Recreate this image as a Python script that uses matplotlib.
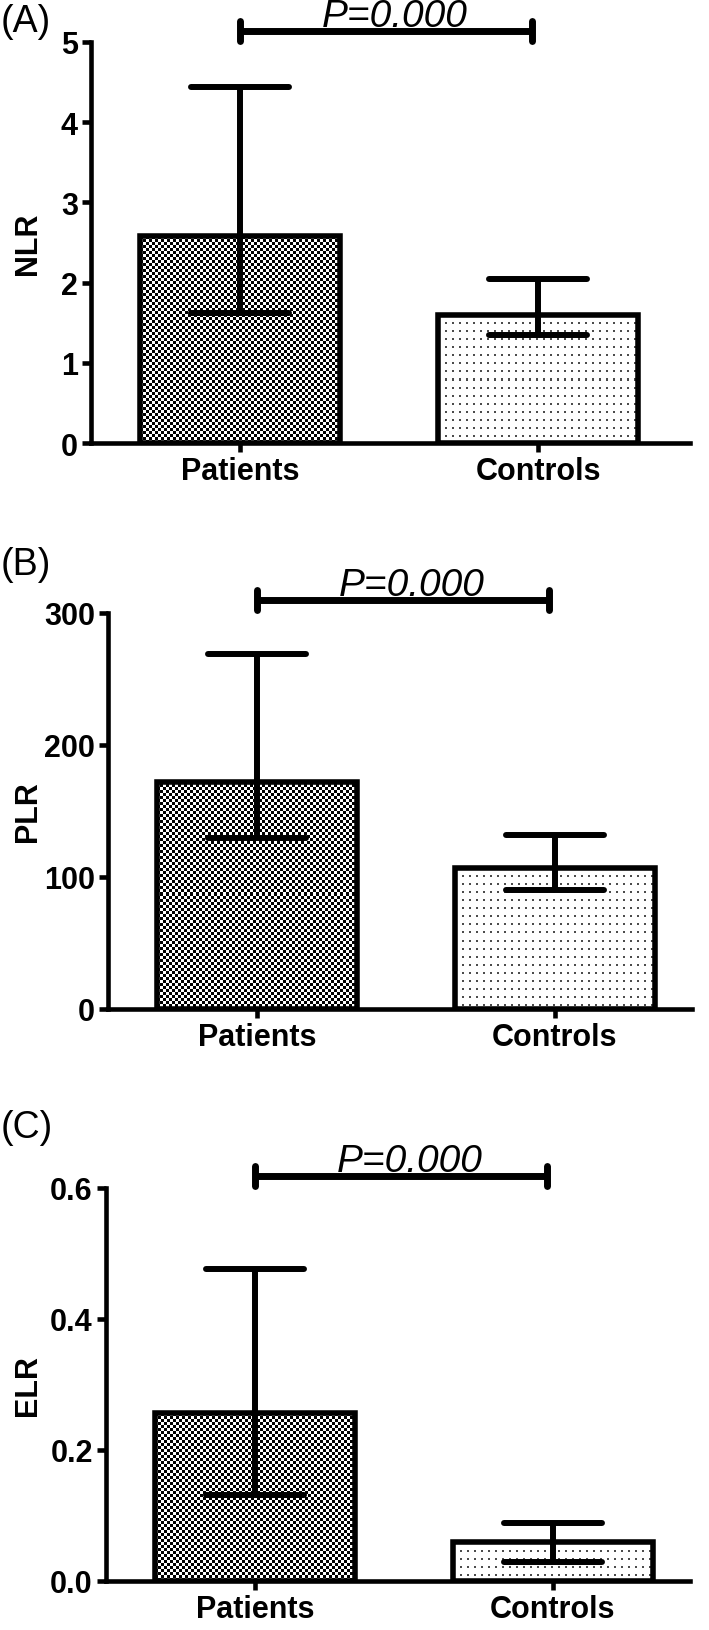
import numpy as np
import matplotlib
matplotlib.use("Agg")
import matplotlib.pyplot as plt

plt.rcParams['font.family'] = ['Liberation Sans', 'DejaVu Sans']

# ---------------- data ----------------
groups = ["Patients", "Controls"]

nlr_mean = [2.58, 1.60]
nlr_low = [1.62, 1.35]
nlr_high = [4.44, 2.05]

plr_mean = [172, 107]
plr_low = [129.5, 90]
plr_high = [269, 132]

elr_mean = [0.256, 0.059]
elr_low = [0.132, 0.029]
elr_high = [0.476, 0.089]

nlr_ticks = [0, 1, 2, 3, 4, 5]
plr_ticks = [0, 100, 200, 300]
elr_ticks = [0.0, 0.2, 0.4, 0.6]
elr_ticklabels = ["0.0", "0.2", "0.4", "0.6"]

sig_levels = [5.14, 310, 0.619]
p_labels = ["P=0.000", "P=0.000", "P=0.000"]
panel_letters = ["(A)", "(B)", "(C)"]
y_names = ["NLR", "PLR", "ELR"]

# ---------------- figure ----------------
W, H = 709, 1631
fig = plt.figure(figsize=(W / 100, H / 100), dpi=100)


def add_axes_px(left, top, right, bottom):
    return fig.add_axes([left / W, 1 - bottom / H, (right - left) / W, (bottom - top) / H])


def checker(h, w):
    yy, xx = np.mgrid[0:h, 0:w]
    return np.where(((yy // 3) + (xx // 3)) % 2 == 0, 0.0, 1.0)


def dots(h, w):
    yy, xx = np.mgrid[0:h, 0:w]
    arr = np.ones((h, w))
    arr[(yy % 8 < 2) & (xx % 7 < 2)] = 0.3
    return arr


def fill_texture(ax, rect, maker):
    bb = rect.get_window_extent()
    w = max(int(round(bb.width)), 1)
    h = max(int(round(bb.height)), 1)
    arr = maker(h, w)
    x0 = rect.get_x()
    x1 = x0 + rect.get_width()
    y1 = rect.get_height()
    im = ax.imshow(arr, cmap="gray", vmin=0, vmax=1, extent=(x0, x1, 0, y1),
                   origin="upper", interpolation="nearest", aspect="auto", zorder=1.5)
    im.set_clip_path(rect)


panels = [
    dict(box=(91, 43, 690, 444), xlim=(-0.5, 1.51), ylim=(0, 5), ticks=nlr_ticks,
         ticklabels=[str(t) for t in nlr_ticks],
         mean=nlr_mean, low=nlr_low, high=nlr_high, letter_y=22),
    dict(box=(108, 614, 692, 1010), xlim=(-0.5, 1.46), ylim=(0, 300), ticks=plr_ticks,
         ticklabels=[str(t) for t in plr_ticks],
         mean=plr_mean, low=plr_low, high=plr_high, letter_y=565),
    dict(box=(106, 1189, 690, 1582), xlim=(-0.5, 1.46), ylim=(0, 0.6), ticks=elr_ticks,
         ticklabels=elr_ticklabels,
         mean=elr_mean, low=elr_low, high=elr_high, letter_y=1128),
]

lw_spine = 3.3
lw_bar = 4.0
lw_err = 4.3
lw_sig = 5.0
cap_half = 0.165
bar_width = 0.67
fs_tick = 22
fs_p = 28

for k, p in enumerate(panels):
    left, top, right, bottom = p["box"]
    ax = add_axes_px(left, top, right, bottom)
    ax.set_xlim(*p["xlim"])
    ax.set_ylim(*p["ylim"])
    x = np.arange(len(groups))

    bars = ax.bar(x, p["mean"], width=bar_width, facecolor="none", edgecolor="black",
                  linewidth=lw_bar, zorder=3, joinstyle="miter")
    makers = [checker, dots]
    for rect, mk in zip(bars.patches, makers):
        fill_texture(ax, rect, mk)

    # error bars
    for i in range(len(groups)):
        ax.plot([x[i], x[i]], [p["low"][i], p["high"][i]], color="black", lw=lw_err,
                solid_capstyle="butt", zorder=4)
        for yv in (p["low"][i], p["high"][i]):
            ax.plot([x[i] - cap_half, x[i] + cap_half], [yv, yv], color="black", lw=lw_err,
                    solid_capstyle="round", zorder=4)

    ax.set_xlim(*p["xlim"])
    ax.set_ylim(*p["ylim"])

    # significance bracket
    sig = sig_levels[k]
    px_per_unit = (bottom - top) / (p["ylim"][1] - p["ylim"][0])
    d = 10 / px_per_unit
    ax.plot([0, 0.98], [sig, sig], color="black", lw=lw_sig, solid_capstyle="butt",
            clip_on=False, zorder=5)
    for xe in (0, 0.98):
        ax.plot([xe, xe], [sig - d, sig + d], color="black", lw=lw_sig,
                solid_capstyle="round", clip_on=False, zorder=5)
    ax.annotate(p_labels[k], xy=(0.52, sig), xytext=(0, 3.5), textcoords="offset points",
                ha="center", va="baseline", fontsize=fs_p, style="italic",
                annotation_clip=False)

    # axes styling
    for s in ("top", "right"):
        ax.spines[s].set_visible(False)
    for s in ("left", "bottom"):
        ax.spines[s].set_linewidth(lw_spine)
    ax.set_xticks(x)
    ax.set_xticklabels(groups, fontsize=fs_tick, fontweight="bold")
    ax.set_yticks(p["ticks"])
    ax.set_yticklabels(p["ticklabels"], fontsize=fs_tick, fontweight="bold")
    ax.tick_params(axis="both", direction="out", length=6.5, width=lw_spine, pad=3.0)
    ax.patch.set_alpha(0)

    # y label
    fig.text(28 / W, 1 - ((top + bottom) / 2) / H, y_names[k], rotation=90,
             ha="center", va="center", fontsize=fs_tick, fontweight="bold")
    # panel letter
    fig.text(1 / W, 1 - p["letter_y"] / H, panel_letters[k], ha="left", va="center",
             fontsize=27)

fig.savefig("out.png", dpi=100)
